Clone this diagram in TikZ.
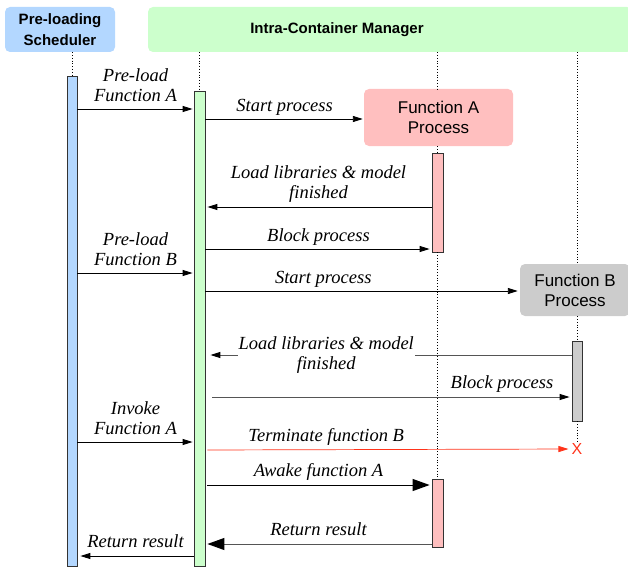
\documentclass[tikz,border=0pt]{standalone}
\usepackage{fontspec}
\setmainfont{Liberation Serif}
\setsansfont{Liberation Sans}
\usetikzlibrary{arrows.meta}

\definecolor{schedblue}{RGB}{179,215,255}
\definecolor{mgrgreen}{RGB}{204,255,204}
\definecolor{procpink}{RGB}{255,191,191}
\definecolor{procgray}{RGB}{204,204,204}
\definecolor{msggray}{RGB}{85,85,85}
\definecolor{killred}{RGB}{255,51,26}

\begin{document}
\begin{tikzpicture}[x=1pt,y=-1pt,
        header/.style={rounded corners=5pt, inner sep=0pt, font=\sffamily\bfseries\fontsize{15}{21}\selectfont, align=center},
        process/.style={rounded corners=5pt, inner sep=0pt, font=\sffamily\fontsize{17}{20}\selectfont, align=center},
        bar/.style={draw=black!80, line width=0.8pt, inner sep=0pt, minimum width=10pt},
        lifeline/.style={dotted, line width=0.8pt},
        msg/.style={line width=0.9pt, -{Triangle[length=10pt,width=6pt]}},
        graymsg/.style={line width=1pt, draw=msggray, -{Triangle[length=10pt,width=6pt,color=black]}},
        bigmsg/.style={line width=1pt, -{Triangle[length=17pt,width=12pt,color=black]}},
        lbl/.style={font=\itshape\fontsize{18.5}{20}\selectfont, align=center, text depth=4.5pt, text=black}]
        \useasboundingbox (0,0) rectangle (628,567);

        % participants
        \node[header, fill=schedblue, minimum width=110pt, minimum height=45pt] (sched) at (60,29.5) {Pre-loading\\Scheduler};
        \node[header, fill=mgrgreen, minimum width=484pt, minimum height=45pt] (icm) at (390,29.5) {};
        \node[header] (icmtext) at (337,30) {Intra-Container Manager};
        \node[process, fill=procpink, minimum width=149pt, minimum height=57pt] (procA) at (438.5,117.5) {Function A\\Process};
        \node[process, fill=procgray, minimum width=110pt, minimum height=52pt] (procB) at (575,290) {Function B\\Process};

        % activation bars
        \node[bar, fill=schedblue, minimum height=490pt] (barS) at (72,321) {};
        \node[bar, fill=mgrgreen, minimum width=11pt, minimum height=475pt] (barM) at (199.5,328.5) {};
        \node[bar, fill=procpink, minimum width=11pt, minimum height=99pt] (barA1) at (437.5,202.5) {};
        \node[bar, fill=procpink, minimum width=11pt, minimum height=68pt] (barA2) at (437.5,513) {};
        \node[bar, fill=procgray, minimum height=80pt] (barB) at (577,381) {};
        \node[text=killred, font=\sffamily\fontsize{16}{16}\selectfont, inner sep=0pt] (killB) at (577,449) {X};

        % lifelines
        \draw[lifeline] (sched.south -| barS) -- (barS.north);
        \draw[lifeline] (icm.south -| barM) -- (barM.north);
        \draw[lifeline] (icm.south -| barA1) -- (procA.north -| barA1);
        \draw[lifeline] (procA.south -| barA1) -- (barA1.north);
        \draw[lifeline] (barA1.south) -- (barA2.north);
        \draw[lifeline] (icm.south -| barB) -- (procB.north -| barB);
        \draw[lifeline] (procB.south -| barB) -- (barB.north);
        \draw[lifeline] (barB.south) -- (killB.north);

        % message rows
        \coordinate (r1) at (0,109);
        \coordinate (r2) at (0,119);
        \coordinate (r3) at (0,207);
        \coordinate (r4) at (0,249);
        \coordinate (r5) at (0,273);
        \coordinate (r6) at (0,291);
        \coordinate (r7) at (0,355);
        \coordinate (r8) at (0,397);
        \coordinate (r9) at (0,442);
        \coordinate (r10) at (0,450);
        \coordinate (r11) at (0,485);
        \coordinate (r12) at (0,544);
        \coordinate (r13) at (0,556);

        % messages
        \draw[msg, shorten >=1pt] (barS.east |- r1) -- (barM.west |- r1) node[lbl, midway, above=-1pt] {Pre-load\\Function A};
        \draw[msg, shorten >=1pt] (barM.east |- r2) -- (procA.west |- r2) node[lbl, midway, above=-1pt] {Start process};
        \draw[msg, shorten >=2pt] (barA1.west |- r3) -- (barM.east |- r3) node[lbl, midway, above] {Load libraries \& model\\finished};
        \draw[msg, shorten >=2pt] (barM.east |- r4) -- (barA1.west |- r4) node[lbl, midway, above=-1pt] {Block process};
        \draw[msg, shorten >=1pt] (barS.east |- r5) -- (barM.west |- r5) node[lbl, midway, above=-1pt] {Pre-load\\Function B};
        \draw[msg, shorten >=2pt] (barM.east |- r6) -- (procB.west |- r6) node[lbl, pos=0.375, above=-1pt] {Start process};
        \draw[graymsg, shorten >=5pt] (barB.west |- r7) -- (barM.east |- r7) node[lbl, pos=0.67, fill=white, inner sep=1pt] {Load libraries \& model\\finished};
        \draw[graymsg, shorten <=7pt, shorten >=2pt] (barM.east |- r8) -- (barB.west |- r8) node[lbl, pos=0.81, above] {Block process};
        \draw[msg, shorten >=1pt] (barS.east |- r9) -- (barM.west |- r9) node[lbl, midway, above=-1pt] {Invoke\\Function A};
        \draw[msg, color=killred, line width=0.7pt, shorten <=2pt, shorten >=3pt] (barM.east |- r10) -- (killB.west) node[lbl, pos=0.33, above] {Terminate function B};
        \draw[bigmsg, shorten <=2pt, shorten >=2pt] (barM.east |- r11) -- (barA2.west |- r11) node[lbl, midway, above] {Awake function A};
        \draw[bigmsg, draw=msggray, shorten >=2pt] (barA2.west |- r12) -- (barM.east |- r12) node[lbl, midway, above] {Return result};
        \draw[msg, shorten >=3pt] (barM.west |- r13) -- (barS.east |- r13) node[lbl, midway, above] {Return result};
\end{tikzpicture}
\end{document}
